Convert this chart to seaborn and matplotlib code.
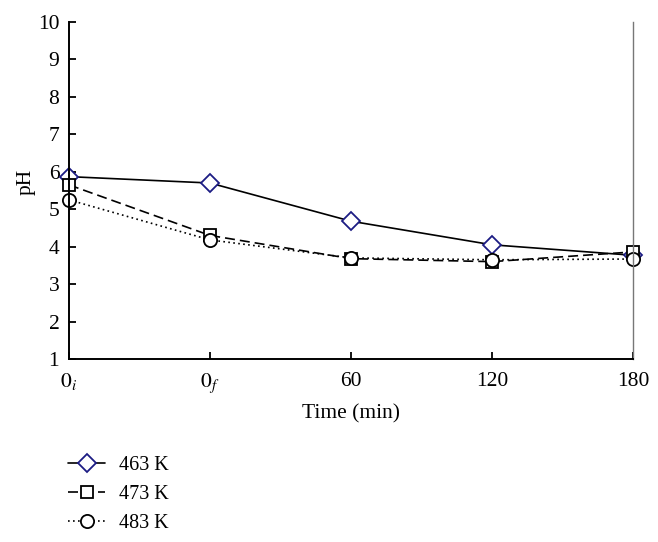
import matplotlib
matplotlib.use("Agg")
import matplotlib.pyplot as plt
import seaborn as sns
import pandas as pd

times = ["$0_i$", "$0_f$", "60", "120", "180"]
ph_463 = [5.87, 5.70, 4.68, 4.05, 3.77]
ph_473 = [5.65, 4.30, 3.68, 3.60, 3.86]
ph_483 = [5.25, 4.18, 3.70, 3.65, 3.67]
series_names = ["463 K", "473 K", "483 K"]
y_ticks = list(range(1, 11))

sns.set_style("ticks")
plt.rcParams['font.family'] = ['Liberation Serif', 'DejaVu Serif']
plt.rcParams['mathtext.fontset'] = 'stix'
plt.rcParams['text.color'] = 'black'
plt.rcParams['axes.labelcolor'] = 'black'

rows = []
for name, vals in zip(series_names, [ph_463, ph_473, ph_483]):
    for i, v in enumerate(vals):
        rows.append({"pos": i, "pH": v, "series": name})
df = pd.DataFrame(rows)

fig = plt.figure(figsize=(6.58, 5.42), dpi=100)
ax = fig.add_axes([69 / 658, 1 - 359 / 542, 564 / 658, 337 / 542])

styles = {
    "463 K": dict(ls="-", marker="D", mec="#1c1c84", ms=9),
    "473 K": dict(ls=(0, (6, 3)), marker="s", mec="black", ms=9),
    "483 K": dict(ls=(0, (1, 2)), marker="o", mec="black", ms=9.5),
}
for name in series_names:
    st = styles[name]
    sub = df[df.series == name]
    sns.lineplot(data=sub, x="pos", y="pH", ax=ax, color="black", lw=1.2,
                 linestyle=st["ls"], marker=st["marker"], markersize=st["ms"],
                 markerfacecolor="white", markeredgecolor=st["mec"],
                 markeredgewidth=1.3, label=name, legend=False, clip_on=False)

ax.set_xlim(0, 4)
ax.set_ylim(1, 10)
ax.set_yticks(y_ticks)
ax.set_xticks(range(len(times)))
ax.set_xticklabels(times)
ax.tick_params(direction="in", length=5, width=1.3, labelsize=15.5,
               colors="black", labelcolor="black")
ax.tick_params(axis="x", pad=9)
ax.tick_params(axis="y", pad=7)
for s in ["left", "bottom"]:
    ax.spines[s].set_linewidth(1.4)
    ax.spines[s].set_color("black")
ax.spines["right"].set_linewidth(1.0)
ax.spines["right"].set_color("#777777")
ax.spines["top"].set_visible(False)
ax.set_xlabel("Time (min)", fontsize=15.5)
ax.set_ylabel("pH", fontsize=15.5)
ax.xaxis.set_label_coords(0.5, -0.134)
ax.yaxis.set_label_coords(-0.060, 0.524)

lines = ax.get_lines()
leg = fig.legend(lines, series_names, loc="upper left",
                 bbox_to_anchor=(0.076, 0.192),
                 frameon=False, fontsize=14.5, handlelength=1.85,
                 labelspacing=0.48, handletextpad=0.7)

fig.savefig("out.png", dpi=100)
